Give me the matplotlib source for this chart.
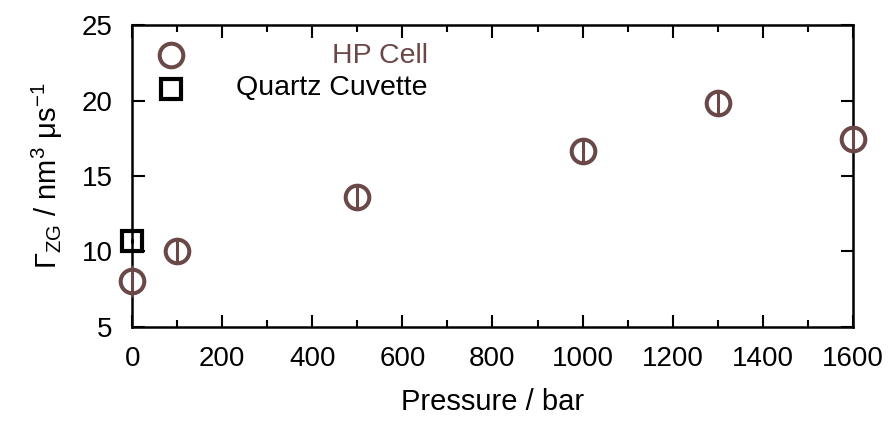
import matplotlib.pyplot as plt
from matplotlib.lines import Line2D

plt.rcParams['font.family'] = ['Liberation Sans', 'DejaVu Sans']
plt.rcParams['mathtext.fontset'] = 'custom'
plt.rcParams['mathtext.rm'] = 'Liberation Sans'
plt.rcParams['mathtext.it'] = 'Liberation Sans:italic'

# HP cell data
hp_pressure = [0, 100, 500, 1000, 1300, 1600]
hp_gamma = [8.05, 10.03, 13.6, 16.65, 19.83, 17.45]
hp_err = [1.05, 0.8, 0.8, 0.8, 0.8, 0.8]

# quartz cuvette data
qc_pressure = [0]
qc_gamma = [10.7]
qc_err = [0.15]

brown = '#6b4848'

fig = plt.figure(figsize=(8.93, 4.25), dpi=100)
ax = fig.add_axes([0.148, 0.231, 0.807, 0.710])

ax.errorbar(hp_pressure, hp_gamma, yerr=hp_err, fmt='o', ms=17, mfc='none',
            mec=brown, mew=2.9, ecolor=brown, elinewidth=2.2, capsize=0,
            clip_on=False, zorder=3)
ax.errorbar(qc_pressure, qc_gamma, yerr=qc_err, fmt='s', ms=15, mfc='none',
            mec='black', mew=3.0, ecolor='black', elinewidth=2.2, capsize=0,
            clip_on=False, zorder=4)

ax.set_xlim(0, 1600)
ax.set_ylim(5, 25)
ax.set_xticks(range(0, 1601, 200))
ax.set_xticks(range(100, 1600, 200), minor=True)
ax.set_yticks([5, 10, 15, 20, 25])
ax.tick_params(which='both', direction='in', top=True, right=True,
               labelsize=20, width=1.5, pad=14)
ax.tick_params(which='major', length=9)
ax.tick_params(which='minor', length=5)
for s in ax.spines.values():
    s.set_linewidth(1.8)

ax.set_xlabel('Pressure / bar', fontsize=21, labelpad=11)
ax.set_ylabel(r'$\mathregular{\Gamma_{ZG}}$ / nm$^\mathregular{3}$ μs$^\mathregular{-1}$',
              fontsize=21, labelpad=12)

handles = [Line2D([], [], ls='none', marker='o', ms=17, mfc='none', mec=brown, mew=2.9),
           Line2D([], [], ls='none', marker='s', ms=15, mfc='none', mec='black', mew=3.0)]
ax.legend(handles, ['', ''], loc='center', frameon=False, fontsize=18,
          bbox_to_anchor=(0.054, 0.839), handlelength=1.0, handletextpad=0,
          borderpad=0, labelspacing=0.37)
ax.text(0.4105, 0.874, 'HP Cell', transform=ax.transAxes, ha='right', va='baseline',
        fontsize=20.5, color=brown)
ax.text(0.4105, 0.768, 'Quartz Cuvette', transform=ax.transAxes, ha='right', va='baseline',
        fontsize=20.5, color='black')

fig.savefig('out.png', dpi=100)
